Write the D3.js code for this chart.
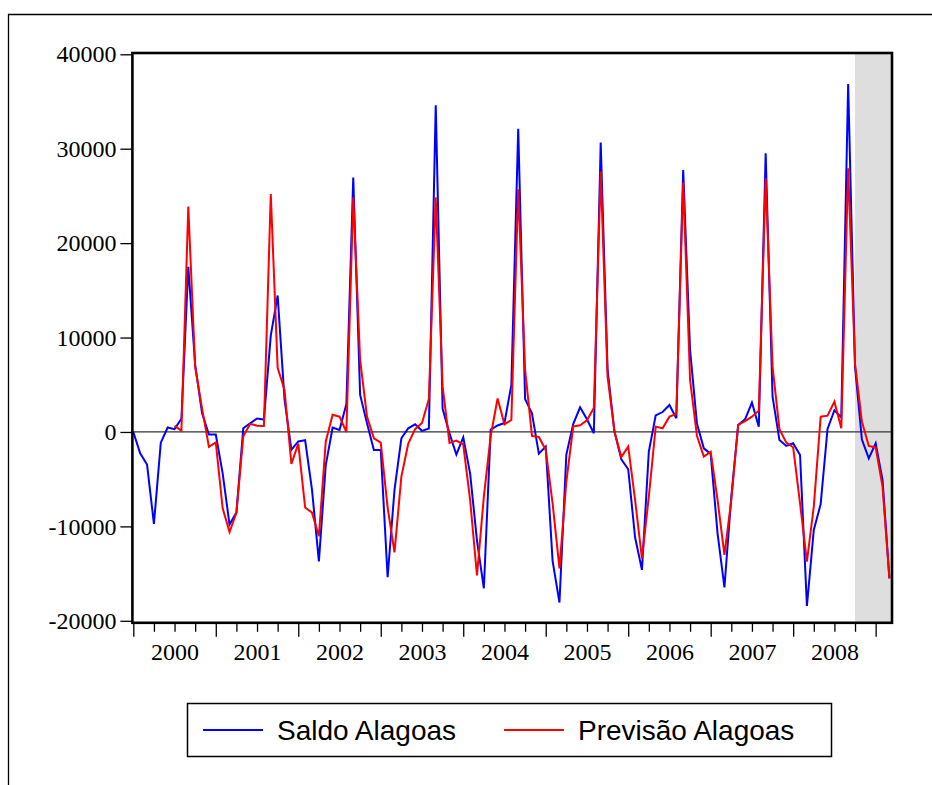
<!DOCTYPE html>
<html>
<head>
<meta charset="utf-8">
<script src="https://cdn.jsdelivr.net/npm/d3@7"></script>
<style>
  body { margin: 0; background: #fff; }
  svg { display: block; }
</style>
</head>
<body>
<div id="chart"></div>
<script>

// months counted from Jan 2000 (index 0) to Mar 2009 (index 110)
var years = [2000, 2001, 2002, 2003, 2004, 2005, 2006, 2007, 2008];
var yTicks = [-20000, -10000, 0, 10000, 20000, 30000, 40000];
var forecastStart = 105;   // Oct 2008, grey band
var previsaoStart = 6;     // forecast series starts Jul 2000

var saldo = [
  0, -2260, -3450, -9740, -1130, 470, 300, 1400, 17500, 7100, 2000, -270,
  -270, -4380, -9800, -8540, 390, 920, 1430, 1320, 10200, 14450, 3450, -1900,
  -1000, -880, -6140, -13700, -3500, 460, 210, 2950, 26950, 3920, 920, -1900,
  -1900, -15390, -6140, -670, 390, 810, 120, 370, 34600, 2450, -150, -2390,
  -565, -4380, -11500, -16560, 250, 690, 950, 4980, 32100, 3480, 1980, -2300,
  -1550, -13650, -18070, -2390, 830, 2610, 1340, -140, 30650, 6570, 35, -2890,
  -3950, -11150, -14610, -2080, 1760, 2110, 2860, 1450, 27750, 8680, 900, -1730,
  -2320, -10730, -16470, -6850, 740, 1340, 3120, 560, 29520, 3740, -850, -1480,
  -1200, -2440, -18430, -10380, -7640, 330, 2300, 1550, 36860, 6900, -800, -2790,
  -1200, -5080, -15500
];

var previsao = [
  650, 150, 23870, 6900, 2500, -1570,
  -1100, -8080, -10600, -8560, -450, 860, 670, 640, 25200, 6800, 4450, -3390,
  -1240, -8000, -8540, -11050, -1000, 1820, 1620, 0, 24860, 7620, 1620, -670,
  -1120, -8000, -12760, -4730, -1240, 300, 950, 3500, 24860, 4800, -1160, -920,
  -1320, -7200, -15200, -6850, -400, 3550, 800, 1270, 25700, 6600, -420, -530,
  -1900, -7550, -14440, -5260, 565, 700, 1240, 2550, 27580, 5860, 35, -2650,
  -1550, -7200, -13380, -6850, 565, 390, 1620, 1900, 26410, 5500, -400, -2610,
  -2100, -7200, -13030, -7200, 740, 1150, 1620, 2260, 26870, 6920, 300, -1130,
  -1620, -7550, -13730, -7900, 1620, 1730, 3210, 390, 27930, 7200, 1090, -1480,
  -1640, -5790, -15500
];

var seriesNames = ["Saldo Alagoas", "Previs\u00e3o Alagoas"];
var seriesColors = ["#0000ff", "#ff0000"];

var width = 932, height = 785;
var svg = d3.select("#chart").append("svg")
    .attr("width", width)
    .attr("height", height);

var nMonths = saldo.length;

var x = d3.scaleLinear()
    .domain([0, nMonths - 1])
    .range([133.3, 889.4]);

var y = d3.scaleLinear()
    .domain([-20000, 40000])
    .range([620.8, 54.3]);

var plotLeft = 132.4, plotRight = 892, plotTop = 53, plotBottom = 622.8;
var serif = "'Liberation Serif', 'Times New Roman', serif";

// outer page frame
svg.append("path")
    .attr("d", "M8.5," + height + "V14.5H" + width)
    .attr("fill", "none")
    .attr("stroke", "#000")
    .attr("stroke-width", 1.3);

// grey forecast band
svg.append("rect")
    .attr("x", x(forecastStart))
    .attr("y", plotTop)
    .attr("width", plotRight - x(forecastStart))
    .attr("height", plotBottom - plotTop)
    .style("fill", "#dedede");

// zero line
svg.append("line")
    .attr("x1", plotLeft).attr("x2", plotRight)
    .attr("y1", y(0)).attr("y2", y(0))
    .attr("stroke", "#333")
    .attr("stroke-width", 1.2);

var line = d3.line()
    .x(function(d) { return x(d.i); })
    .y(function(d) { return y(d.v); });

var saldoData = saldo.map(function(v, i) { return {i: i, v: v}; });
var previsaoData = previsao.map(function(v, i) { return {i: i + previsaoStart, v: v}; });

svg.append("path")
    .datum(saldoData)
    .attr("d", line)
    .attr("fill", "none")
    .attr("stroke", seriesColors[0])
    .attr("stroke-width", 2);

svg.append("path")
    .datum(previsaoData)
    .attr("d", line)
    .attr("fill", "none")
    .attr("stroke", seriesColors[1])
    .attr("stroke-width", 2);

// frame
svg.append("rect")
    .attr("x", plotLeft)
    .attr("y", plotTop)
    .attr("width", plotRight - plotLeft)
    .attr("height", plotBottom - plotTop)
    .attr("fill", "none")
    .attr("stroke", "#000")
    .attr("stroke-width", 2.6);

// y axis
var yAxis = d3.axisLeft(y)
    .tickValues(yTicks)
    .tickSize(12)
    .tickPadding(4)
    .tickFormat(function(d) { return String(d); });

svg.append("g")
    .attr("class", "axis axis--y")
    .attr("transform", "translate(" + plotLeft + ",0)")
    .call(customYAxis);

function customYAxis(g) {
  g.call(yAxis);
  g.select(".domain").remove();
  g.selectAll(".tick line").attr("stroke", "#000").attr("stroke-width", 1.3);
  g.selectAll(".tick text")
    .attr("fill", "#000")
    .style("font-family", serif)
    .style("font-size", "24px");
}

// x axis: quarterly minor ticks, yearly major ticks
var minorTicks = d3.range(0, nMonths, 3).filter(function(m) { return m % 12 !== 0; });
var majorTicks = d3.range(0, nMonths, 12);

svg.append("g")
    .attr("transform", "translate(0," + plotBottom + ")")
    .call(customXAxis, d3.axisBottom(x).tickValues(minorTicks).tickSize(9).tickFormat(""));

svg.append("g")
    .attr("transform", "translate(0," + plotBottom + ")")
    .call(customXAxis, d3.axisBottom(x).tickValues(majorTicks).tickSize(14).tickFormat(""));

var yearAxis = d3.axisBottom(x)
    .tickValues(years.map(function(yr) { return (yr - years[0]) * 12 + 6; }))
    .tickSize(0)
    .tickPadding(20)
    .tickFormat(function(d) { return years[0] + Math.floor(d / 12); });

svg.append("g")
    .attr("transform", "translate(0," + plotBottom + ")")
    .call(customXAxis, yearAxis);

function customXAxis(g, axis) {
  g.call(axis);
  g.select(".domain").remove();
  g.selectAll(".tick line").attr("stroke", "#000").attr("stroke-width", 1.3);
  g.selectAll(".tick text")
    .attr("fill", "#000")
    .style("font-family", serif)
    .style("font-size", "24px");
}

// legend
var legend = svg.append("g");
legend.append("rect")
    .attr("x", 187.5).attr("y", 703.5)
    .attr("width", 644).attr("height", 53)
    .attr("fill", "#fff")
    .attr("stroke", "#000")
    .attr("stroke-width", 1.5);

var legendItems = [
  {name: seriesNames[0], color: seriesColors[0], x0: 203},
  {name: seriesNames[1], color: seriesColors[1], x0: 504}
];

legendItems.forEach(function(d) {
  legend.append("line")
      .attr("x1", d.x0).attr("x2", d.x0 + 60)
      .attr("y1", 730).attr("y2", 730)
      .attr("stroke", d.color)
      .attr("stroke-width", 2);
  legend.append("text")
      .attr("x", d.x0 + 74)
      .attr("y", 740)
      .text(d.name)
      .style("font-family", "'Liberation Sans', Arial, sans-serif")
      .style("font-size", "28px")
      .attr("fill", "#000");
});

</script>
</body>
</html>
